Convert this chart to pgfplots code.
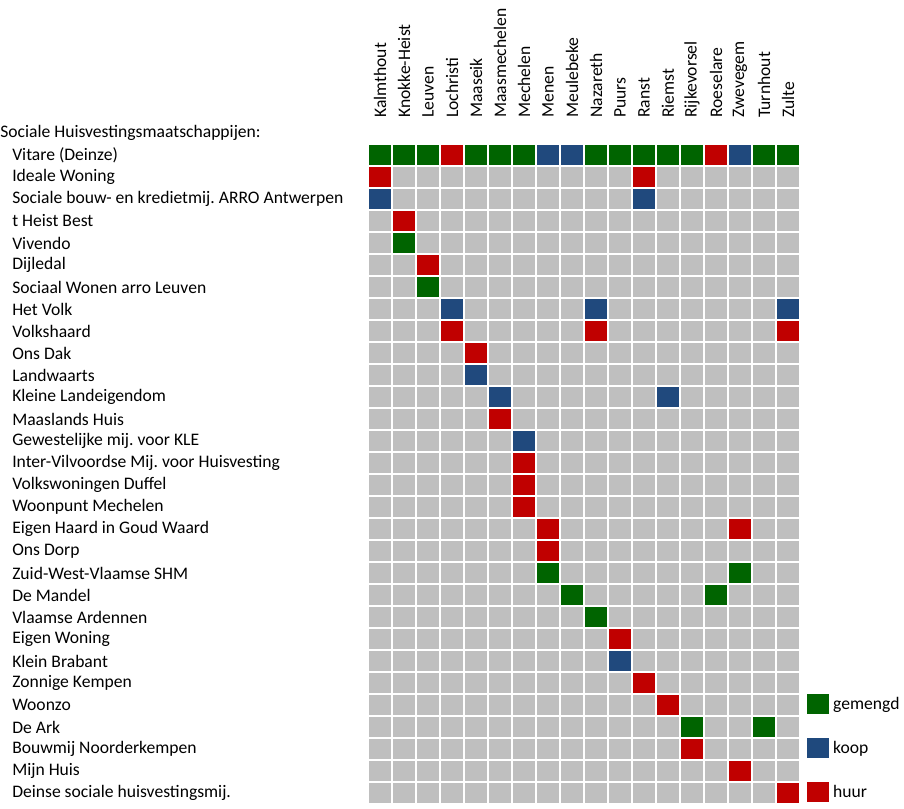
\documentclass[border=0pt]{standalone}
\usepackage{fontspec}
\setmainfont{Carlito}
\usepackage{pgfplots}
\pgfplotsset{compat=1.18}
\definecolor{cgray}{RGB}{191,191,191}
\definecolor{cgreen}{RGB}{0,100,0}
\definecolor{cblue}{RGB}{31,73,125}
\definecolor{cred}{RGB}{192,0,0}
\newcommand\lf{\fontsize{13.2}{15.8}\selectfont}
\frenchspacing
\begin{document}
\begin{tikzpicture}[x=1pt,y=1pt]
\useasboundingbox (0,0) rectangle (678,-606.75);
\node[anchor=west, inner sep=0pt, font=\lf] at (0,-99.75) {Sociale Huisvestingsmaatschappijen:};
\begin{axis}[
  at={(276pt,-108pt)}, anchor=north west,
  scale only axis, width=324pt, height=495pt,
  xmin=-0.5, xmax=17.5, ymin=-0.5, ymax=29.5, y dir=reverse,
  axis line style={draw=none}, major tick length=0pt, tick style={draw=none},
  xtick={0,...,17}, xticklabel pos=upper,
  xticklabels={Kalmthout,Knokke-Heist,Leuven,Lochristi,Maaseik,Maasmechelen,Mechelen,Menen,Meulebeke,Nazareth,Puurs,Ranst,Riemst,Rijkevorsel,Roeselare,Zwevegem,Turnhout,Zulte},
  xticklabel style={rotate=90, anchor=west, inner sep=0pt, font=\lf},
  xticklabel shift=19.5pt,
  ytick={0,...,29},
  yticklabels={Vitare (Deinze),Ideale Woning,Sociale bouw- en kredietmij. ARRO Antwerpen,t Heist Best,Vivendo,Dijledal,Sociaal Wonen arro Leuven,Het Volk,Volkshaard,Ons Dak,Landwaarts,Kleine Landeigendom,Maaslands Huis,Gewestelijke mij. voor KLE,Inter-Vilvoordse Mij. voor Huisvesting,Volkswoningen Duffel,Woonpunt Mechelen,Eigen Haard in Goud Waard,Ons Dorp,Zuid-West-Vlaamse SHM,De Mandel,Vlaamse Ardennen,Eigen Woning,Klein Brabant,Zonnige Kempen,Woonzo,De Ark,Bouwmij Noorderkempen,Mijn Huis,Deinse sociale huisvestingsmij.},
  yticklabel style={anchor=west, inner sep=0pt, xshift=-267pt, font=\lf},
  colormap={cat}{rgb255(0cm)=(191,191,191) rgb255(1cm)=(0,100,0) rgb255(2cm)=(31,73,125) rgb255(3cm)=(192,0,0)},
  point meta min=0, point meta max=3,
  clip=false,
  legend style={draw=none, fill=none, at={(axis cs:17.79,24.5)}, anchor=north west,
    inner sep=0pt, row sep=18pt, column sep=3pt, nodes={inner sep=0pt}, cells={anchor=west}, font=\lf},
  legend image code/.code={\fill[#1, draw=none] (0pt,-7.5pt) rectangle (16.5pt,7.5pt);},
]
\addplot[matrix plot*, mesh/cols=18, point meta=explicit, draw=white, line width=1.4pt, forget plot] coordinates {
(0,0)[1] (1,0)[1] (2,0)[1] (3,0)[3] (4,0)[1] (5,0)[1] (6,0)[1] (7,0)[2] (8,0)[2] (9,0)[1] (10,0)[1] (11,0)[1] (12,0)[1] (13,0)[1] (14,0)[3] (15,0)[2] (16,0)[1] (17,0)[1]
(0,1)[3] (1,1)[0] (2,1)[0] (3,1)[0] (4,1)[0] (5,1)[0] (6,1)[0] (7,1)[0] (8,1)[0] (9,1)[0] (10,1)[0] (11,1)[3] (12,1)[0] (13,1)[0] (14,1)[0] (15,1)[0] (16,1)[0] (17,1)[0]
(0,2)[2] (1,2)[0] (2,2)[0] (3,2)[0] (4,2)[0] (5,2)[0] (6,2)[0] (7,2)[0] (8,2)[0] (9,2)[0] (10,2)[0] (11,2)[2] (12,2)[0] (13,2)[0] (14,2)[0] (15,2)[0] (16,2)[0] (17,2)[0]
(0,3)[0] (1,3)[3] (2,3)[0] (3,3)[0] (4,3)[0] (5,3)[0] (6,3)[0] (7,3)[0] (8,3)[0] (9,3)[0] (10,3)[0] (11,3)[0] (12,3)[0] (13,3)[0] (14,3)[0] (15,3)[0] (16,3)[0] (17,3)[0]
(0,4)[0] (1,4)[1] (2,4)[0] (3,4)[0] (4,4)[0] (5,4)[0] (6,4)[0] (7,4)[0] (8,4)[0] (9,4)[0] (10,4)[0] (11,4)[0] (12,4)[0] (13,4)[0] (14,4)[0] (15,4)[0] (16,4)[0] (17,4)[0]
(0,5)[0] (1,5)[0] (2,5)[3] (3,5)[0] (4,5)[0] (5,5)[0] (6,5)[0] (7,5)[0] (8,5)[0] (9,5)[0] (10,5)[0] (11,5)[0] (12,5)[0] (13,5)[0] (14,5)[0] (15,5)[0] (16,5)[0] (17,5)[0]
(0,6)[0] (1,6)[0] (2,6)[1] (3,6)[0] (4,6)[0] (5,6)[0] (6,6)[0] (7,6)[0] (8,6)[0] (9,6)[0] (10,6)[0] (11,6)[0] (12,6)[0] (13,6)[0] (14,6)[0] (15,6)[0] (16,6)[0] (17,6)[0]
(0,7)[0] (1,7)[0] (2,7)[0] (3,7)[2] (4,7)[0] (5,7)[0] (6,7)[0] (7,7)[0] (8,7)[0] (9,7)[2] (10,7)[0] (11,7)[0] (12,7)[0] (13,7)[0] (14,7)[0] (15,7)[0] (16,7)[0] (17,7)[2]
(0,8)[0] (1,8)[0] (2,8)[0] (3,8)[3] (4,8)[0] (5,8)[0] (6,8)[0] (7,8)[0] (8,8)[0] (9,8)[3] (10,8)[0] (11,8)[0] (12,8)[0] (13,8)[0] (14,8)[0] (15,8)[0] (16,8)[0] (17,8)[3]
(0,9)[0] (1,9)[0] (2,9)[0] (3,9)[0] (4,9)[3] (5,9)[0] (6,9)[0] (7,9)[0] (8,9)[0] (9,9)[0] (10,9)[0] (11,9)[0] (12,9)[0] (13,9)[0] (14,9)[0] (15,9)[0] (16,9)[0] (17,9)[0]
(0,10)[0] (1,10)[0] (2,10)[0] (3,10)[0] (4,10)[2] (5,10)[0] (6,10)[0] (7,10)[0] (8,10)[0] (9,10)[0] (10,10)[0] (11,10)[0] (12,10)[0] (13,10)[0] (14,10)[0] (15,10)[0] (16,10)[0] (17,10)[0]
(0,11)[0] (1,11)[0] (2,11)[0] (3,11)[0] (4,11)[0] (5,11)[2] (6,11)[0] (7,11)[0] (8,11)[0] (9,11)[0] (10,11)[0] (11,11)[0] (12,11)[2] (13,11)[0] (14,11)[0] (15,11)[0] (16,11)[0] (17,11)[0]
(0,12)[0] (1,12)[0] (2,12)[0] (3,12)[0] (4,12)[0] (5,12)[3] (6,12)[0] (7,12)[0] (8,12)[0] (9,12)[0] (10,12)[0] (11,12)[0] (12,12)[0] (13,12)[0] (14,12)[0] (15,12)[0] (16,12)[0] (17,12)[0]
(0,13)[0] (1,13)[0] (2,13)[0] (3,13)[0] (4,13)[0] (5,13)[0] (6,13)[2] (7,13)[0] (8,13)[0] (9,13)[0] (10,13)[0] (11,13)[0] (12,13)[0] (13,13)[0] (14,13)[0] (15,13)[0] (16,13)[0] (17,13)[0]
(0,14)[0] (1,14)[0] (2,14)[0] (3,14)[0] (4,14)[0] (5,14)[0] (6,14)[3] (7,14)[0] (8,14)[0] (9,14)[0] (10,14)[0] (11,14)[0] (12,14)[0] (13,14)[0] (14,14)[0] (15,14)[0] (16,14)[0] (17,14)[0]
(0,15)[0] (1,15)[0] (2,15)[0] (3,15)[0] (4,15)[0] (5,15)[0] (6,15)[3] (7,15)[0] (8,15)[0] (9,15)[0] (10,15)[0] (11,15)[0] (12,15)[0] (13,15)[0] (14,15)[0] (15,15)[0] (16,15)[0] (17,15)[0]
(0,16)[0] (1,16)[0] (2,16)[0] (3,16)[0] (4,16)[0] (5,16)[0] (6,16)[3] (7,16)[0] (8,16)[0] (9,16)[0] (10,16)[0] (11,16)[0] (12,16)[0] (13,16)[0] (14,16)[0] (15,16)[0] (16,16)[0] (17,16)[0]
(0,17)[0] (1,17)[0] (2,17)[0] (3,17)[0] (4,17)[0] (5,17)[0] (6,17)[0] (7,17)[3] (8,17)[0] (9,17)[0] (10,17)[0] (11,17)[0] (12,17)[0] (13,17)[0] (14,17)[0] (15,17)[3] (16,17)[0] (17,17)[0]
(0,18)[0] (1,18)[0] (2,18)[0] (3,18)[0] (4,18)[0] (5,18)[0] (6,18)[0] (7,18)[3] (8,18)[0] (9,18)[0] (10,18)[0] (11,18)[0] (12,18)[0] (13,18)[0] (14,18)[0] (15,18)[0] (16,18)[0] (17,18)[0]
(0,19)[0] (1,19)[0] (2,19)[0] (3,19)[0] (4,19)[0] (5,19)[0] (6,19)[0] (7,19)[1] (8,19)[0] (9,19)[0] (10,19)[0] (11,19)[0] (12,19)[0] (13,19)[0] (14,19)[0] (15,19)[1] (16,19)[0] (17,19)[0]
(0,20)[0] (1,20)[0] (2,20)[0] (3,20)[0] (4,20)[0] (5,20)[0] (6,20)[0] (7,20)[0] (8,20)[1] (9,20)[0] (10,20)[0] (11,20)[0] (12,20)[0] (13,20)[0] (14,20)[1] (15,20)[0] (16,20)[0] (17,20)[0]
(0,21)[0] (1,21)[0] (2,21)[0] (3,21)[0] (4,21)[0] (5,21)[0] (6,21)[0] (7,21)[0] (8,21)[0] (9,21)[1] (10,21)[0] (11,21)[0] (12,21)[0] (13,21)[0] (14,21)[0] (15,21)[0] (16,21)[0] (17,21)[0]
(0,22)[0] (1,22)[0] (2,22)[0] (3,22)[0] (4,22)[0] (5,22)[0] (6,22)[0] (7,22)[0] (8,22)[0] (9,22)[0] (10,22)[3] (11,22)[0] (12,22)[0] (13,22)[0] (14,22)[0] (15,22)[0] (16,22)[0] (17,22)[0]
(0,23)[0] (1,23)[0] (2,23)[0] (3,23)[0] (4,23)[0] (5,23)[0] (6,23)[0] (7,23)[0] (8,23)[0] (9,23)[0] (10,23)[2] (11,23)[0] (12,23)[0] (13,23)[0] (14,23)[0] (15,23)[0] (16,23)[0] (17,23)[0]
(0,24)[0] (1,24)[0] (2,24)[0] (3,24)[0] (4,24)[0] (5,24)[0] (6,24)[0] (7,24)[0] (8,24)[0] (9,24)[0] (10,24)[0] (11,24)[3] (12,24)[0] (13,24)[0] (14,24)[0] (15,24)[0] (16,24)[0] (17,24)[0]
(0,25)[0] (1,25)[0] (2,25)[0] (3,25)[0] (4,25)[0] (5,25)[0] (6,25)[0] (7,25)[0] (8,25)[0] (9,25)[0] (10,25)[0] (11,25)[0] (12,25)[3] (13,25)[0] (14,25)[0] (15,25)[0] (16,25)[0] (17,25)[0]
(0,26)[0] (1,26)[0] (2,26)[0] (3,26)[0] (4,26)[0] (5,26)[0] (6,26)[0] (7,26)[0] (8,26)[0] (9,26)[0] (10,26)[0] (11,26)[0] (12,26)[0] (13,26)[1] (14,26)[0] (15,26)[0] (16,26)[1] (17,26)[0]
(0,27)[0] (1,27)[0] (2,27)[0] (3,27)[0] (4,27)[0] (5,27)[0] (6,27)[0] (7,27)[0] (8,27)[0] (9,27)[0] (10,27)[0] (11,27)[0] (12,27)[0] (13,27)[3] (14,27)[0] (15,27)[0] (16,27)[0] (17,27)[0]
(0,28)[0] (1,28)[0] (2,28)[0] (3,28)[0] (4,28)[0] (5,28)[0] (6,28)[0] (7,28)[0] (8,28)[0] (9,28)[0] (10,28)[0] (11,28)[0] (12,28)[0] (13,28)[0] (14,28)[0] (15,28)[3] (16,28)[0] (17,28)[0]
(0,29)[0] (1,29)[0] (2,29)[0] (3,29)[0] (4,29)[0] (5,29)[0] (6,29)[0] (7,29)[0] (8,29)[0] (9,29)[0] (10,29)[0] (11,29)[0] (12,29)[0] (13,29)[0] (14,29)[0] (15,29)[0] (16,29)[0] (17,29)[3]
};
\addlegendimage{fill=cgreen}
\addlegendentry{gemengd}
\addlegendimage{fill=cblue}
\addlegendentry{koop}
\addlegendimage{fill=cred}
\addlegendentry{huur}
\end{axis}
\end{tikzpicture}
\end{document}
